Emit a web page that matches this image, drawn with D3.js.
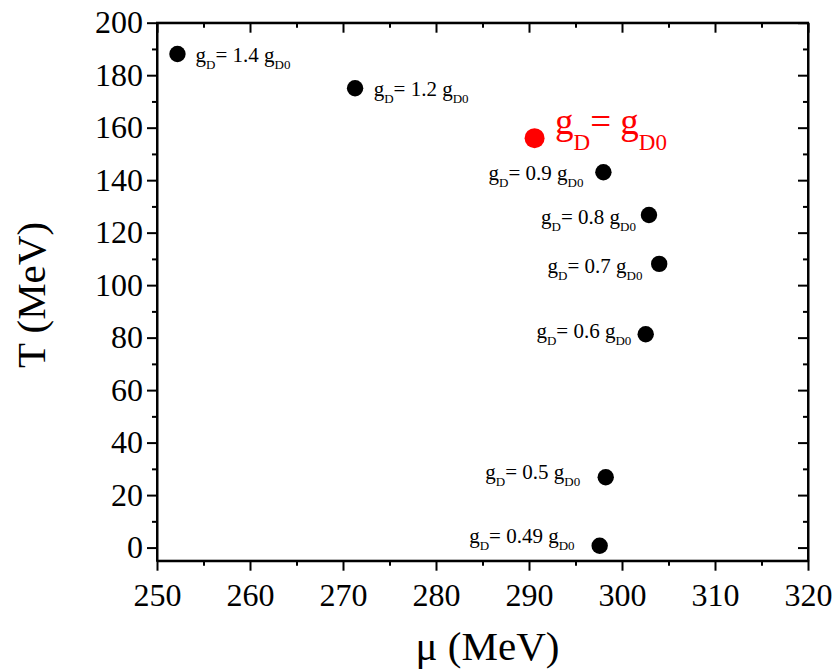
<!DOCTYPE html>
<html>
<head>
<meta charset="utf-8">
<script src="https://cdn.jsdelivr.net/npm/d3@7"></script>
<style>
  html, body { margin: 0; padding: 0; background: #fff; }
  svg { display: block; }
  svg text { font-family: "Liberation Serif", "Times New Roman", serif; }
</style>
</head>
<body>
<svg id="chart" width="835" height="671"></svg>
<script>
// Chemical potential (MeV) and temperature (MeV) of each point
const muValues = [252.2, 271.3, 290.6, 298.0, 302.9, 304.0, 302.55, 298.25, 297.6];
const tValues  = [188.1, 175.0, 156.0, 143.0, 126.7, 108.1, 81.3, 26.8, 0.7];
// Coupling ratio g_D / g_D0 for each point
const couplings = ["1.4", "1.2", "1", "0.9", "0.8", "0.7", "0.6", "0.5", "0.49"];
// Label anchors in data units (mu, T) and text alignment
const labelMu = [254.15, 273.3, 292.8, 295.85, 301.5, 302.2, 301.0, 295.5, 294.9];
const labelT  = [185.1, 172.2, 157.4, 140.1, 123.2, 104.5, 79.8, 26.1, 1.9];
const labelAnchor = ["start", "start", "start", "end", "end", "end", "end", "end", "end"];

const xTicks = [250, 260, 270, 280, 290, 300, 310, 320];
const xMinor = [255, 265, 275, 285, 295, 305, 315];
const yTicks = [0, 20, 40, 60, 80, 100, 120, 140, 160, 180, 200];
const yMinor = [10, 30, 50, 70, 90, 110, 130, 150, 170, 190];

const W = 835, H = 671;
const margin = { left: 157, right: 27, top: 22.7, bottom: 110.3 };
const iw = W - margin.left - margin.right;
const ih = H - margin.top - margin.bottom;
const SERIF = '"Liberation Serif", "Times New Roman", serif';

const svg = d3.select("#chart");
const g = svg.append("g").attr("transform", `translate(${margin.left},${margin.top})`);

const x = d3.scaleLinear().domain([250, 320]).range([0, iw]);
const y = d3.scaleLinear().domain([-5, 200]).range([ih, 0]);

function styleAxis(sel, fontSize) {
  sel.attr("font-family", SERIF).attr("font-size", fontSize);
  sel.selectAll("path.domain").attr("stroke", "#000").attr("stroke-width", 2);
  sel.selectAll(".tick line").attr("stroke", "#000").attr("stroke-width", 2);
  sel.selectAll(".tick text").attr("fill", "#000");
}

// Bottom axis with labels
const xAxis = g.append("g").attr("transform", `translate(0,${ih})`)
  .call(d3.axisBottom(x).tickValues(xTicks).tickSize(10).tickSizeOuter(0).tickPadding(13).tickFormat(d3.format("d")));
styleAxis(xAxis, 32);
g.append("g").attr("transform", `translate(0,${ih})`)
  .call(d3.axisBottom(x).tickValues(xMinor).tickSize(5).tickFormat(""))
  .call(s => { s.select(".domain").remove(); styleAxis(s, 10); });

// Left axis with labels
const yAxis = g.append("g")
  .call(d3.axisLeft(y).tickValues(yTicks).tickSize(10).tickSizeOuter(0).tickPadding(4).tickFormat(d3.format("d")));
styleAxis(yAxis, 32);
g.append("g")
  .call(d3.axisLeft(y).tickValues(yMinor).tickSize(5).tickFormat(""))
  .call(s => { s.select(".domain").remove(); styleAxis(s, 10); });

// Top and right mirror axes, ticks pointing inward
const xTop = g.append("g")
  .call(d3.axisBottom(x).tickValues(xTicks).tickSize(10).tickSizeOuter(0).tickFormat(""));
styleAxis(xTop, 10);
g.append("g")
  .call(d3.axisBottom(x).tickValues(xMinor).tickSize(5).tickFormat(""))
  .call(s => { s.select(".domain").remove(); styleAxis(s, 10); });

const yRight = g.append("g").attr("transform", `translate(${iw},0)`)
  .call(d3.axisLeft(y).tickValues(yTicks).tickSize(10).tickSizeOuter(0).tickFormat(""));
styleAxis(yRight, 10);
g.append("g").attr("transform", `translate(${iw},0)`)
  .call(d3.axisLeft(y).tickValues(yMinor).tickSize(5).tickFormat(""))
  .call(s => { s.select(".domain").remove(); styleAxis(s, 10); });

// Square off the frame corners
g.append("rect").attr("x", 0).attr("y", 0).attr("width", iw).attr("height", ih)
  .attr("fill", "none").attr("stroke", "#000").attr("stroke-width", 2);

// Points
const pts = muValues.map((m, i) => ({ mu: m, T: tValues[i], c: couplings[i],
  lx: labelMu[i], ly: labelT[i], anchor: labelAnchor[i], ref: couplings[i] === "1" }));

g.selectAll("circle.pt").data(pts).join("circle")
  .attr("class", "pt")
  .attr("cx", d => x(d.mu))
  .attr("cy", d => y(d.T))
  .attr("r", d => d.ref ? 10 : 8.2)
  .attr("fill", d => d.ref ? "#ff0000" : "#000");

// Labels "g_D = k g_D0"
pts.forEach(d => {
  const big = d.ref;
  const main = big ? 37 : 21;
  const sub = big ? 23 : 13;
  const shift = big ? 16 : 7;
  const t = g.append("text")
    .attr("x", x(d.lx)).attr("y", y(d.ly))
    .attr("text-anchor", d.anchor)
    .attr("fill", big ? "#ff0000" : "#000")
    .attr("font-size", main);
  t.append("tspan").text("g");
  t.append("tspan").attr("dy", shift).attr("font-size", sub).text("D");
  t.append("tspan").attr("dy", -shift).text(big ? "= g" : "= " + d.c + " g");
  t.append("tspan").attr("dy", shift).attr("font-size", sub).text("D0");
});

// Axis titles
svg.append("text")
  .attr("x", margin.left + iw / 2 + 5).attr("y", 660)
  .attr("text-anchor", "middle")
  .attr("font-size", 41)
  .text("μ (MeV)");

svg.append("text")
  .attr("transform", `translate(45,${295}) rotate(-90)`)
  .attr("text-anchor", "middle")
  .attr("font-size", 41)
  .text("T (MeV)");
</script>
</body>
</html>
